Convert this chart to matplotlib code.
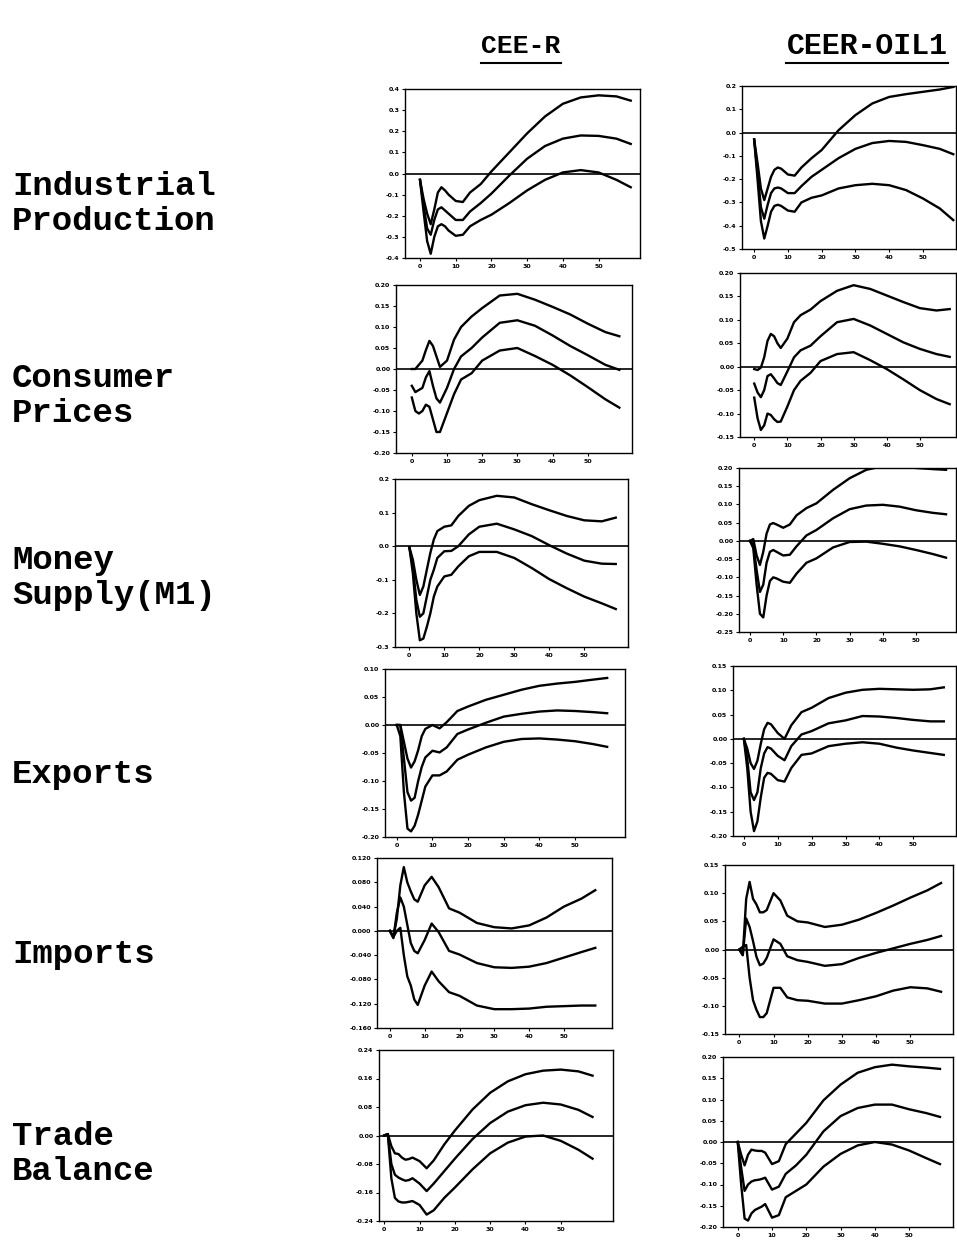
import matplotlib
matplotlib.use('Agg')
import matplotlib.pyplot as plt
from matplotlib.lines import Line2D

horizon = [0, 1, 2, 3, 4, 5, 6, 7, 8, 10, 12, 14, 17, 20, 25, 30, 35, 40, 45, 50, 55, 59]

columns = ['CEE-R', 'CEER-OIL1']
rows = ['Industrial\nProduction', 'Consumer\nPrices', 'Money\nSupply(M1)',
        'Exports', 'Imports', 'Trade\nBalance']

# Industrial production
ip_r_up = [-0.03, -0.12, -0.19, -0.24, -0.17, -0.09, -0.065, -0.08, -0.10, -0.13, -0.135, -0.09, -0.05, 0.01, 0.10, 0.19, 0.27, 0.33, 0.36, 0.37, 0.365, 0.345]
ip_r_mid = [-0.03, -0.15, -0.26, -0.29, -0.22, -0.17, -0.16, -0.175, -0.19, -0.22, -0.22, -0.18, -0.14, -0.095, -0.01, 0.07, 0.13, 0.165, 0.18, 0.178, 0.165, 0.14]
ip_r_low = [-0.03, -0.18, -0.32, -0.38, -0.30, -0.25, -0.24, -0.25, -0.27, -0.295, -0.29, -0.25, -0.22, -0.195, -0.14, -0.08, -0.03, 0.005, 0.016, 0.005, -0.03, -0.065]
ip_o_up = [-0.03, -0.13, -0.24, -0.29, -0.24, -0.19, -0.16, -0.15, -0.155, -0.18, -0.185, -0.15, -0.11, -0.075, 0.01, 0.075, 0.125, 0.153, 0.165, 0.175, 0.185, 0.196]
ip_o_mid = [-0.03, -0.17, -0.32, -0.37, -0.31, -0.26, -0.24, -0.236, -0.24, -0.26, -0.26, -0.23, -0.19, -0.16, -0.11, -0.07, -0.045, -0.036, -0.04, -0.054, -0.07, -0.093]
ip_o_low = [-0.03, -0.20, -0.38, -0.455, -0.40, -0.34, -0.315, -0.31, -0.315, -0.335, -0.34, -0.30, -0.28, -0.27, -0.24, -0.226, -0.22, -0.226, -0.247, -0.283, -0.326, -0.376]

# Consumer prices
cp_r_up = [0.0, 0.0, 0.01, 0.02, 0.045, 0.067, 0.055, 0.03, 0.005, 0.02, 0.07, 0.10, 0.125, 0.145, 0.175, 0.179, 0.165, 0.148, 0.13, 0.108, 0.088, 0.078]
cp_r_mid = [-0.04, -0.055, -0.05, -0.045, -0.02, -0.005, -0.04, -0.07, -0.08, -0.045, 0.0, 0.03, 0.05, 0.075, 0.11, 0.116, 0.103, 0.08, 0.055, 0.033, 0.01, -0.002]
cp_r_low = [-0.068, -0.10, -0.106, -0.10, -0.085, -0.09, -0.12, -0.15, -0.15, -0.105, -0.06, -0.025, -0.01, 0.02, 0.044, 0.05, 0.031, 0.01, -0.015, -0.043, -0.072, -0.092]
cp_o_up = [-0.005, -0.007, -0.002, 0.02, 0.055, 0.07, 0.065, 0.05, 0.04, 0.06, 0.095, 0.11, 0.122, 0.14, 0.162, 0.174, 0.166, 0.152, 0.138, 0.125, 0.12, 0.123]
cp_o_mid = [-0.036, -0.055, -0.065, -0.05, -0.02, -0.016, -0.025, -0.035, -0.039, -0.01, 0.02, 0.035, 0.045, 0.065, 0.095, 0.102, 0.088, 0.07, 0.052, 0.038, 0.027, 0.021]
cp_o_low = [-0.066, -0.11, -0.135, -0.125, -0.10, -0.103, -0.112, -0.118, -0.117, -0.085, -0.05, -0.03, -0.013, 0.012, 0.027, 0.031, 0.014, -0.005, -0.027, -0.05, -0.069, -0.08]

# Money supply (M1)
m1_r_up = [-0.003, -0.04, -0.10, -0.145, -0.12, -0.07, -0.02, 0.02, 0.045, 0.058, 0.062, 0.09, 0.12, 0.137, 0.15, 0.145, 0.125, 0.107, 0.09, 0.077, 0.074, 0.085]
m1_r_mid = [-0.003, -0.06, -0.16, -0.21, -0.20, -0.15, -0.10, -0.07, -0.035, -0.015, -0.014, 0.0, 0.035, 0.058, 0.067, 0.05, 0.03, 0.003, -0.022, -0.043, -0.052, -0.053]
m1_r_low = [-0.003, -0.08, -0.20, -0.28, -0.275, -0.24, -0.20, -0.15, -0.12, -0.09, -0.085, -0.06, -0.03, -0.017, -0.017, -0.035, -0.065, -0.098, -0.125, -0.15, -0.17, -0.187]
m1_o_up = [0.0, 0.005, -0.04, -0.066, -0.03, 0.02, 0.045, 0.049, 0.045, 0.036, 0.045, 0.07, 0.09, 0.103, 0.14, 0.172, 0.195, 0.205, 0.205, 0.20, 0.197, 0.195]
m1_o_mid = [0.0, -0.01, -0.08, -0.14, -0.12, -0.06, -0.03, -0.025, -0.03, -0.04, -0.038, -0.015, 0.015, 0.03, 0.062, 0.087, 0.097, 0.099, 0.094, 0.084, 0.077, 0.073]
m1_o_low = [0.0, -0.02, -0.12, -0.20, -0.21, -0.15, -0.11, -0.10, -0.103, -0.112, -0.115, -0.09, -0.06, -0.048, -0.018, -0.003, -0.002, -0.008, -0.015, -0.025, -0.036, -0.046]

# Exports
ex_r_up = [0.0, 0.0, -0.03, -0.06, -0.076, -0.065, -0.045, -0.02, -0.007, 0.0, -0.006, 0.005, 0.025, 0.033, 0.045, 0.054, 0.063, 0.07, 0.074, 0.077, 0.081, 0.084]
ex_r_mid = [0.0, 0.0, -0.06, -0.12, -0.135, -0.13, -0.10, -0.075, -0.058, -0.046, -0.049, -0.04, -0.016, -0.008, 0.004, 0.015, 0.02, 0.024, 0.026, 0.025, 0.023, 0.021]
ex_r_low = [0.0, -0.02, -0.12, -0.185, -0.19, -0.18, -0.16, -0.135, -0.11, -0.09, -0.09, -0.083, -0.062, -0.053, -0.04, -0.03, -0.025, -0.024, -0.026, -0.029, -0.034, -0.039]
ex_o_up = [0.0, -0.02, -0.05, -0.062, -0.045, -0.01, 0.02, 0.033, 0.03, 0.012, 0.0, 0.028, 0.055, 0.064, 0.084, 0.095, 0.101, 0.103, 0.102, 0.101, 0.102, 0.106]
ex_o_mid = [0.0, -0.04, -0.11, -0.126, -0.11, -0.06, -0.03, -0.017, -0.02, -0.035, -0.044, -0.015, 0.009, 0.016, 0.032, 0.038, 0.047, 0.046, 0.043, 0.039, 0.036, 0.036]
ex_o_low = [0.0, -0.06, -0.15, -0.19, -0.17, -0.12, -0.08, -0.07, -0.072, -0.085, -0.088, -0.06, -0.033, -0.03, -0.015, -0.01, -0.007, -0.01, -0.018, -0.024, -0.029, -0.033]

# Imports
im_r_up = [0.0, -0.01, 0.02, 0.075, 0.105, 0.08, 0.065, 0.052, 0.048, 0.075, 0.089, 0.072, 0.037, 0.03, 0.013, 0.006, 0.004, 0.009, 0.022, 0.04, 0.053, 0.067]
im_r_mid = [0.0, -0.012, 0.03, 0.055, 0.04, 0.01, -0.02, -0.033, -0.037, -0.015, 0.012, -0.002, -0.033, -0.039, -0.053, -0.06, -0.061, -0.059, -0.053, -0.044, -0.035, -0.028]
im_r_low = [0.0, -0.01, 0.0, 0.005, -0.04, -0.075, -0.09, -0.113, -0.122, -0.09, -0.067, -0.083, -0.101, -0.107, -0.123, -0.129, -0.129, -0.128, -0.125, -0.124, -0.123, -0.123]
im_o_up = [0.0, -0.01, 0.09, 0.12, 0.09, 0.08, 0.066, 0.066, 0.07, 0.10, 0.087, 0.06, 0.05, 0.048, 0.04, 0.044, 0.053, 0.065, 0.078, 0.092, 0.105, 0.118]
im_o_mid = [0.0, -0.01, 0.055, 0.04, 0.015, -0.013, -0.028, -0.025, -0.015, 0.018, 0.01, -0.012, -0.019, -0.022, -0.029, -0.026, -0.015, -0.006, 0.002, 0.01, 0.017, 0.024]
im_o_low = [0.0, 0.005, 0.008, -0.05, -0.09, -0.107, -0.12, -0.12, -0.113, -0.068, -0.068, -0.085, -0.09, -0.091, -0.096, -0.096, -0.09, -0.083, -0.073, -0.067, -0.069, -0.075]

# Trade balance
tb_r_up = [0.0, 0.004, -0.03, -0.05, -0.052, -0.062, -0.068, -0.066, -0.062, -0.072, -0.092, -0.07, -0.025, 0.014, 0.073, 0.12, 0.152, 0.172, 0.182, 0.185, 0.18, 0.168]
tb_r_mid = [0.0, 0.004, -0.08, -0.11, -0.118, -0.123, -0.127, -0.125, -0.12, -0.135, -0.156, -0.135, -0.10, -0.065, -0.01, 0.035, 0.067, 0.085, 0.092, 0.087, 0.072, 0.052]
tb_r_low = [0.0, 0.004, -0.12, -0.175, -0.185, -0.188, -0.188, -0.186, -0.184, -0.195, -0.222, -0.21, -0.175, -0.146, -0.095, -0.05, -0.02, -0.003, 0.0, -0.015, -0.04, -0.065]
tb_o_up = [0.0, -0.03, -0.055, -0.03, -0.018, -0.02, -0.021, -0.021, -0.025, -0.052, -0.045, -0.005, 0.02, 0.045, 0.098, 0.135, 0.163, 0.176, 0.182, 0.178, 0.175, 0.172]
tb_o_mid = [0.0, -0.06, -0.115, -0.10, -0.093, -0.09, -0.089, -0.087, -0.084, -0.112, -0.105, -0.075, -0.055, -0.03, 0.025, 0.061, 0.08, 0.088, 0.088, 0.077, 0.068, 0.059]
tb_o_low = [0.0, -0.10, -0.18, -0.185, -0.168, -0.16, -0.156, -0.152, -0.146, -0.178, -0.172, -0.13, -0.115, -0.10, -0.058, -0.028, -0.008, 0.0, -0.006, -0.02, -0.038, -0.052]

# y tick values for each panel (row, column)
yt_ip_r = [0.4, 0.3, 0.2, 0.1, 0.0, -0.1, -0.2, -0.3, -0.4]
yt_ip_o = [0.2, 0.1, 0.0, -0.1, -0.2, -0.3, -0.4, -0.5]
yt_cp_r = [0.20, 0.15, 0.10, 0.05, 0.00, -0.05, -0.10, -0.15, -0.20]
yt_cp_o = [0.20, 0.15, 0.10, 0.05, 0.00, -0.05, -0.10, -0.15]
yt_m1_r = [0.2, 0.1, 0.0, -0.1, -0.2, -0.3]
yt_m1_o = [0.20, 0.15, 0.10, 0.05, 0.00, -0.05, -0.10, -0.15, -0.20, -0.25]
yt_ex_r = [0.10, 0.05, 0.00, -0.05, -0.10, -0.15, -0.20]
yt_ex_o = [0.15, 0.10, 0.05, 0.00, -0.05, -0.10, -0.15, -0.20]
yt_im_r = [0.120, 0.080, 0.040, 0.000, -0.040, -0.080, -0.120, -0.160]
yt_im_o = [0.15, 0.10, 0.05, 0.00, -0.05, -0.10, -0.15]
yt_tb_r = [0.24, 0.16, 0.08, 0.00, -0.08, -0.16, -0.24]
yt_tb_o = [0.20, 0.15, 0.10, 0.05, 0.00, -0.05, -0.10, -0.15, -0.20]
xt = [0, 10, 20, 30, 40, 50]

W, H = 957, 1246
fig = plt.figure(figsize=(W / 100, H / 100), dpi=100)

# panel boxes in pixels: left, right, top, bottom, then x limits and label format
panels = [
    ((405, 640, 89, 258), (-4.2, 61.6), [ip_r_up, ip_r_mid, ip_r_low], yt_ip_r, '%.1f'),
    ((742, 956, 86, 249), (-3.6, 59.8), [ip_o_up, ip_o_mid, ip_o_low], yt_ip_o, '%.1f'),
    ((396, 632, 285, 453), (-4.5, 62.6), [cp_r_up, cp_r_mid, cp_r_low], yt_cp_r, '%.2f'),
    ((740, 956, 273, 437), (-4.3, 60.9), [cp_o_up, cp_o_mid, cp_o_low], yt_cp_o, '%.2f'),
    ((395, 628, 479, 647), (-4.1, 62.5), [m1_r_up, m1_r_mid, m1_r_low], yt_m1_r, '%.1f'),
    ((739, 956, 468, 632), (-3.3, 62.0), [m1_o_up, m1_o_mid, m1_o_low], yt_m1_o, '%.2f'),
    ((385, 625, 669, 837), (-3.3, 64.0), [ex_r_up, ex_r_mid, ex_r_low], yt_ex_r, '%.2f'),
    ((733, 956, 666, 836), (-3.2, 62.6), [ex_o_up, ex_o_mid, ex_o_low], yt_ex_o, '%.2f'),
    ((377, 612, 858, 1028), (-3.7, 63.8), [im_r_up, im_r_mid, im_r_low], yt_im_r, '%.3f'),
    ((725, 953, 865, 1034), (-4.2, 62.5), [im_o_up, im_o_mid, im_o_low], yt_im_o, '%.2f'),
    ((379, 613, 1050, 1221), (-1.5, 64.8), [tb_r_up, tb_r_mid, tb_r_low], yt_tb_r, '%.2f'),
    ((723, 953, 1057, 1227), (-4.3, 62.8), [tb_o_up, tb_o_mid, tb_o_low], yt_tb_o, '%.2f'),
]

for (l, r, t, b), xlim, curves, yt, fmt in panels:
    ax = fig.add_axes([l / W, 1 - b / H, (r - l) / W, (b - t) / H])
    for c in curves:
        ax.plot(horizon, c, color='black', lw=1.7, solid_joinstyle='round')
    ax.axhline(0, color='black', lw=1.2)
    ax.set_xlim(*xlim)
    ax.set_ylim(yt[-1], yt[0])
    ax.set_yticks(yt)
    ax.set_yticklabels([fmt % v for v in yt])
    ax.set_xticks(xt)
    ax.tick_params(labelsize=4.5, length=2, width=0.8, pad=2)
    for lab in ax.get_xticklabels() + ax.get_yticklabels():
        lab.set_fontweight('bold')
    for s in ax.spines.values():
        s.set_linewidth(1.0)

mono = 'Liberation Mono'

# column headers, underlined
for x, name, size in zip([521, 867], columns, [19, 21.5]):
    fig.text(x / W, 1 - 46 / H, name, ha='center', va='center',
             family=mono, weight='bold', fontsize=size)
    half = len(name) * 0.6 * size * 100 / 72 / 2
    fig.add_artist(Line2D([(x - half) / W, (x + half) / W], [1 - 63 / H, 1 - 63 / H],
                          color='black', lw=1.5))

# row labels
label_y = [204, 396, 578, 775, 955, 1154]
for y, name in zip(label_y, rows):
    fig.text(12 / W, 1 - y / H, name, ha='left', va='center', family=mono,
             weight='bold', fontsize=24.5, linespacing=1.17)

fig.savefig('out.png', dpi=100, facecolor='white')
